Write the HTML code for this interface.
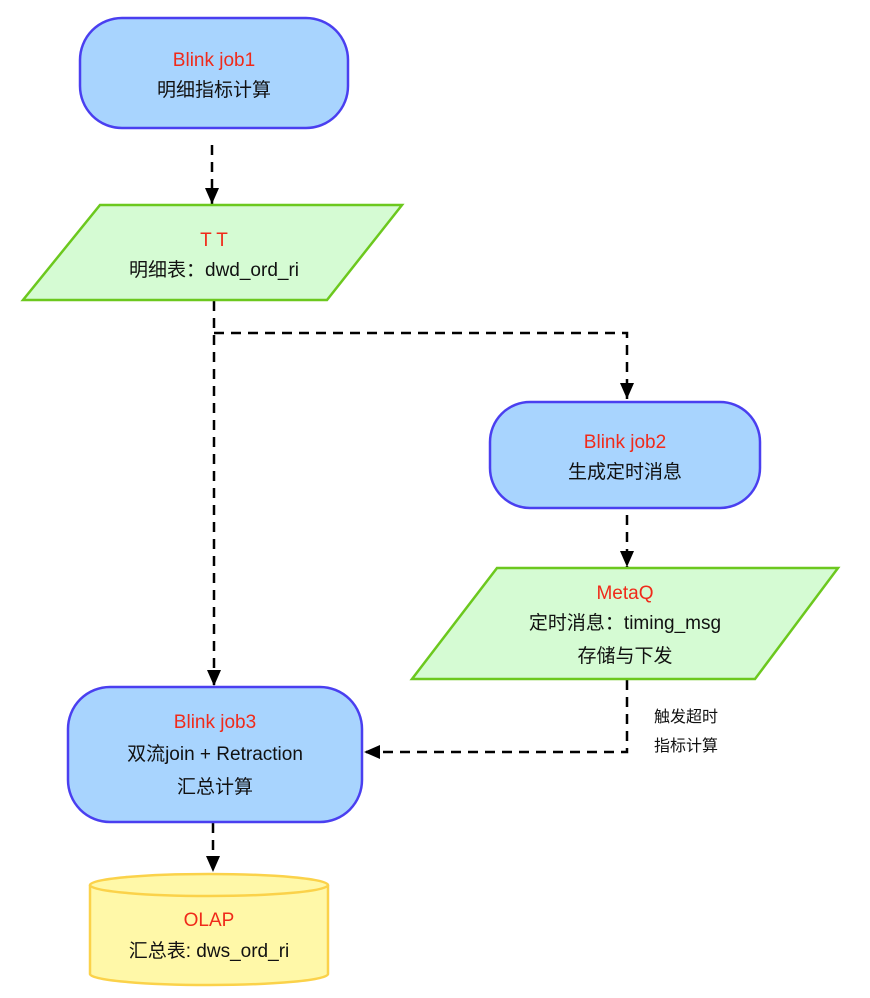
<!DOCTYPE html>
<html><head><meta charset="utf-8"><style>
body{margin:0;background:#fff;}
svg text{font-family:"Liberation Sans","Noto Sans CJK SC",sans-serif;font-size:19px;text-anchor:middle;fill:#111;}
.r{fill:#f02a1a;}
</style></head><body>
<svg width="870" height="993" viewBox="0 0 870 993">
<defs><marker id="a" markerWidth="10" markerHeight="10" refX="9" refY="5" orient="auto" markerUnits="userSpaceOnUse"><path d="M0,0 L10,5 L0,10 z" fill="#000"/></marker>
<marker id="b" markerWidth="18" markerHeight="16" refX="16" refY="8" orient="auto" markerUnits="userSpaceOnUse"><path d="M0,1 L16,8 L0,15 z" fill="#000"/></marker></defs>
<g stroke="#000" stroke-width="2.5" stroke-dasharray="10,7" fill="none">
<path d="M212 145 V204" marker-end="url(#b)"/>
<path d="M214 301 V686" marker-end="url(#b)"/>
<path d="M214 333 H627 V399" marker-end="url(#b)"/>
<path d="M627 515 V567" marker-end="url(#b)"/>
<path d="M627 680 V752 H364" marker-end="url(#b)"/>
<path d="M213 823 V872" marker-end="url(#b)"/>
</g>
<rect x="80" y="18" width="268" height="110" rx="42" fill="#a8d4fe" stroke="#4a3ff0" stroke-width="2.5"/>
<text x="214" y="66" class="r">Blink job1</text><text x="214" y="96">明细指标计算</text>
<polygon points="100,205 402,205 327,300 23,300" fill="#d5fbd3" stroke="#6cc81e" stroke-width="2.5"/>
<text x="214" y="246" class="r">T T</text><text x="214" y="276">明细表：dwd_ord_ri</text>
<rect x="490" y="402" width="270" height="106" rx="40" fill="#a8d4fe" stroke="#4a3ff0" stroke-width="2.5"/>
<text x="625" y="448" class="r">Blink job2</text><text x="625" y="478">生成定时消息</text>
<polygon points="497,568 838,568 755,679 412,679" fill="#d5fbd3" stroke="#6cc81e" stroke-width="2.5"/>
<text x="625" y="599" class="r">MetaQ</text><text x="625" y="629">定时消息：timing_msg</text><text x="625" y="662">存储与下发</text>
<text x="686" y="722" style="font-size:16px">触发超时</text><text x="686" y="751" style="font-size:16px">指标计算</text>
<rect x="68" y="687" width="294" height="135" rx="42" fill="#a8d4fe" stroke="#4a3ff0" stroke-width="2.5"/>
<text x="215" y="728" class="r">Blink job3</text><text x="215" y="760">双流join + Retraction</text><text x="215" y="793">汇总计算</text>
<path d="M90 885 V974 A119 11 0 0 0 328 974 V885" fill="#fff8a8" stroke="#fbd24a" stroke-width="2.5"/>
<ellipse cx="209" cy="885" rx="119" ry="11" fill="#fff8a8" stroke="#fbd24a" stroke-width="2.5"/>
<text x="209" y="926" class="r">OLAP</text><text x="209" y="957">汇总表: dws_ord_ri</text>
</svg>
</body></html>
